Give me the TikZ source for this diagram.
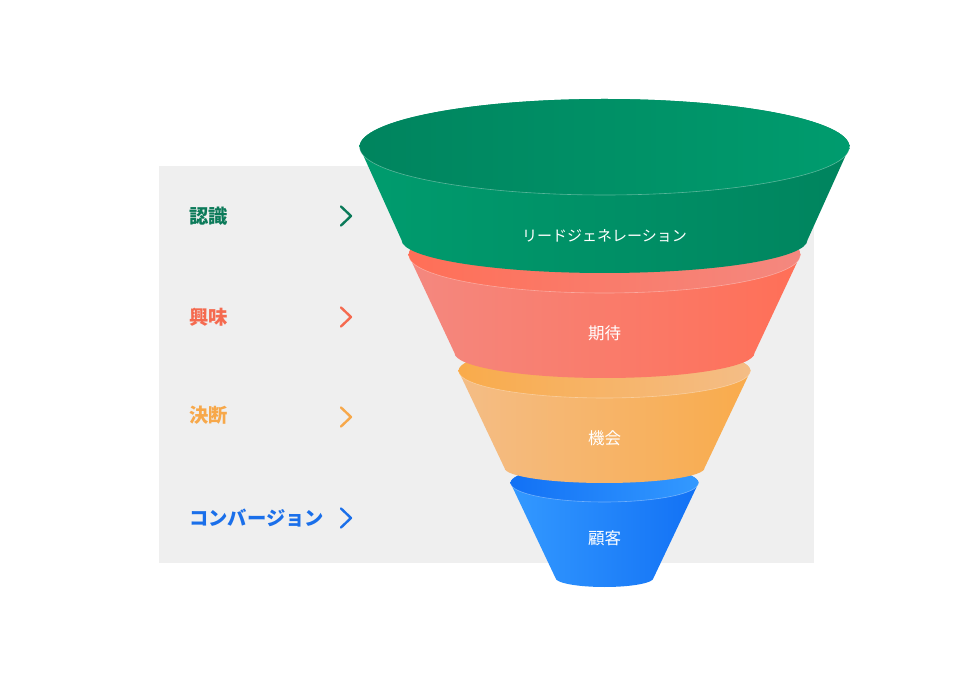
\documentclass[tikz,border=0pt]{standalone}
\usepackage{fontspec}
\setmainfont{Noto Sans CJK JP}
\begin{document}
\begin{tikzpicture}[x=1pt,y=1pt,
  seglabel/.style={text=white,font=\fontsize{16.5}{19}\selectfont,inner sep=0pt},
  sidelabel/.style={font=\fontsize{19.3}{22}\selectfont\bfseries,anchor=west,inner sep=0pt},
  chev/.style={line width=2.4pt,line cap=round,line join=round}]
\definecolor{bgGray}{HTML}{EFEFEF}
\definecolor{gA}{HTML}{00845E}\definecolor{gB}{HTML}{009C6E}
\definecolor{rA}{HTML}{FF6F57}\definecolor{rB}{HTML}{F4887F}
\definecolor{oA}{HTML}{F9AB4B}\definecolor{oB}{HTML}{F4BD86}
\definecolor{bA}{HTML}{1271F5}\definecolor{bB}{HTML}{3399FF}
\definecolor{tGreen}{HTML}{0B7A59}\definecolor{tRed}{HTML}{F56A4F}
\definecolor{tOrange}{HTML}{F7A84A}\definecolor{tBlue}{HTML}{1A6FEA}
\useasboundingbox (0,0) rectangle (980,686);
\fill[white] (0,0) rectangle (980,686);
\fill[bgGray] (159,123) rectangle (814,520);
% #1 Ytop #2 rxt #3 ryt #4 Ybot #5 rxb #6 ryb #7 colA #8 colB
\newcommand\fseg[8]{%
  \shade[left color=#8,right color=#7]
    ({604.5-#2},#1) -- ({604.5-#5},#4)
    arc[start angle=180,end angle=360,x radius=#5,y radius=#6]
    -- ({604.5+#2},#1)
    arc[start angle=0,end angle=180,x radius=#2,y radius=#3] -- cycle;
  \shade[left color=#7,right color=#8] (604.5,#1) ellipse[x radius=#2,y radius=#3];
  \draw[white,opacity=0.35,line width=0.6pt] ({604.5-#2},#1)
    arc[start angle=180,end angle=360,x radius=#2,y radius=#3];
}
\fseg{203}{94}{19}{108}{49}{9}{bA}{bB}
\fseg{315}{146}{27}{218}{100}{15}{oA}{oB}
\fseg{431}{196}{38}{333}{150}{25}{rA}{rB}
\fseg{539}{245}{48}{446}{203}{33}{gA}{gB}
\node[seglabel,font=\fontsize{15}{18}\selectfont] (s1) at (604.5,450) {リードジェネレーション};
\node[seglabel] (s2) at (604.5,353) {期待};
\node[seglabel] (s3) at (604.5,248) {機会};
\node[seglabel] (s4) at (604.5,148) {顧客};
\node[sidelabel,text=tGreen] (l1) at (189,470) {認識};
\node[sidelabel,text=tRed] (l2) at (189,369) {興味};
\node[sidelabel,text=tOrange] (l3) at (189,271) {決断};
\node[sidelabel,text=tBlue] (l4) at (189,168) {コンバージョン};
\draw[chev,tGreen] (341,479.5) -- (351,470) -- (341,460.5);
\draw[chev,tRed] (341,378.5) -- (351,369) -- (341,359.5);
\draw[chev,tOrange] (341,278.5) -- (351,269) -- (341,259.5);
\draw[chev,tBlue] (341,177.5) -- (351,168) -- (341,158.5);
\end{tikzpicture}
\end{document}
